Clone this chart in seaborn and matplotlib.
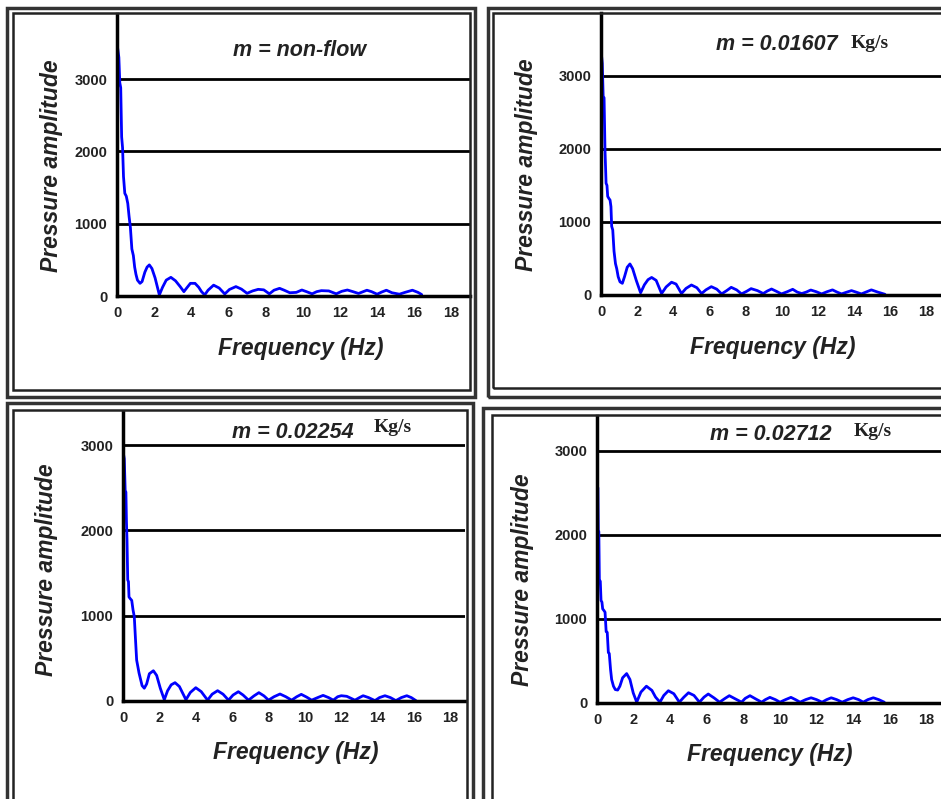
import matplotlib
matplotlib.use("Agg")
import matplotlib.pyplot as plt
from matplotlib.patches import Rectangle
from matplotlib.ticker import MultipleLocator
import seaborn as sns

# (frequency in Hz, pressure amplitude)
freq_nonflow = [0.0, 0.05, 0.1, 0.15, 0.2, 0.25, 0.3, 0.35, 0.42, 0.5,
                0.58, 0.65, 0.72, 0.8, 0.88, 0.95, 1.02, 1.1, 1.24, 1.35,
                1.5, 1.62, 1.74, 1.88, 2.05, 2.28, 2.45, 2.65, 2.9, 3.15,
                3.4, 3.6, 3.78, 3.95, 4.2, 4.4, 4.55, 4.72, 4.9, 5.2,
                5.5, 5.8, 6.05, 6.4, 6.7, 7.0, 7.3, 7.6, 7.9, 8.2,
                8.45, 8.75, 9.0, 9.3, 9.65, 9.95, 10.2, 10.5, 10.75, 11.0,
                11.4, 11.8, 12.1, 12.4, 12.7, 13.0, 13.2, 13.45, 13.7, 14.0,
                14.25, 14.5, 14.8, 15.2, 15.5, 15.9, 16.2, 16.4]
amp_nonflow = [3490, 3400, 3300, 2950, 2880, 2200, 2050, 1650, 1420, 1380,
               1280, 1100, 950, 650, 560, 400, 300, 220, 175, 200,
               330, 400, 430, 380, 250, 15, 120, 220, 258, 210,
               130, 60, 120, 175, 175, 120, 60, 15, 80, 150,
               110, 28, 90, 130, 95, 37, 70, 92, 85, 30,
               80, 106, 80, 45, 50, 83, 60, 30, 60, 74,
               70, 30, 65, 83, 60, 35, 55, 80, 60, 25,
               55, 80, 45, 25, 50, 80, 50, 20]

freq_01607 = [0.0, 0.04, 0.07, 0.12, 0.17, 0.22, 0.28, 0.33, 0.37, 0.44,
              0.5, 0.55, 0.59, 0.65, 0.72, 0.8, 0.87, 0.95, 1.05, 1.18,
              1.3, 1.45, 1.6, 1.75, 1.95, 2.19, 2.4, 2.6, 2.8, 3.05,
              3.35, 3.6, 3.9, 4.15, 4.45, 4.7, 5.0, 5.3, 5.56, 5.8,
              6.1, 6.4, 6.67, 6.95, 7.2, 7.5, 7.77, 8.05, 8.3, 8.65,
              8.97, 9.2, 9.43, 9.7, 9.98, 10.3, 10.6, 10.85, 11.1, 11.35,
              11.6, 11.9, 12.2, 12.5, 12.8, 13.05, 13.3, 13.6, 13.85, 14.1,
              14.4, 14.7, 14.95, 15.3, 15.7]
amp_01607 = [3330, 3250, 3170, 2720, 2700, 1990, 1530, 1500, 1350, 1320,
             1300, 1210, 940, 890, 600, 430, 360, 250, 180, 160,
             250, 380, 425, 360, 200, 30, 140, 210, 240, 200,
             20, 110, 175, 150, 20, 90, 137, 100, 20, 70,
             114, 80, 15, 60, 105, 70, 15, 50, 87, 60,
             20, 55, 82, 50, 15, 45, 78, 40, 20, 40,
             68, 45, 15, 45, 70, 40, 15, 40, 60, 40,
             15, 45, 70, 40, 10]

freq_02254 = [0.0, 0.04, 0.07, 0.12, 0.16, 0.19, 0.22, 0.26, 0.3, 0.33,
              0.4, 0.48, 0.55, 0.62, 0.68, 0.75, 0.82, 0.88, 0.97, 1.05,
              1.17, 1.3, 1.45, 1.67, 1.85, 2.05, 2.27, 2.45, 2.65, 2.86,
              3.1, 3.46, 3.7, 4.0, 4.3, 4.65, 4.9, 5.2, 5.5, 5.8,
              6.05, 6.34, 6.6, 6.9, 7.2, 7.47, 7.75, 8.0, 8.3, 8.63,
              8.95, 9.27, 9.55, 9.8, 10.1, 10.37, 10.7, 11.0, 11.3, 11.56,
              11.8, 12.0, 12.3, 12.75, 13.0, 13.2, 13.5, 13.85, 14.1, 14.4,
              14.7, 15.0, 15.3, 15.6, 15.85, 16.1]
amp_02254 = [2920, 2880, 2840, 2470, 2450, 2100, 1890, 1420, 1400, 1220,
             1200, 1180, 1070, 990, 750, 480, 400, 330, 250, 180,
             150, 200, 320, 355, 300, 150, 15, 120, 190, 215,
             170, 15, 100, 156, 110, 10, 80, 121, 80, 10,
             70, 109, 70, 10, 60, 98, 60, 10, 50, 82,
             50, 10, 50, 78, 45, 10, 40, 66, 40, 10,
             50, 62, 55, 10, 40, 62, 40, 5, 40, 62,
             40, 5, 40, 62, 40, 5]

freq_02712 = [0.0, 0.02, 0.05, 0.07, 0.1, 0.13, 0.18, 0.22, 0.27, 0.31,
              0.38, 0.44, 0.5, 0.56, 0.62, 0.67, 0.74, 0.8, 0.9, 1.0,
              1.13, 1.25, 1.4, 1.62, 1.8, 1.98, 2.17, 2.4, 2.7, 3.0,
              3.2, 3.44, 3.65, 3.9, 4.2, 4.5, 4.75, 5.0, 5.3, 5.6,
              5.85, 6.08, 6.4, 6.7, 7.0, 7.23, 7.55, 7.9, 8.1, 8.36,
              8.7, 9.0, 9.2, 9.45, 9.75, 10.0, 10.3, 10.6, 10.85, 11.1,
              11.4, 11.7, 12.0, 12.3, 12.55, 12.8, 13.1, 13.4, 13.7, 14.0,
              14.3, 14.55, 14.8, 15.1, 15.4, 15.7]
amp_02712 = [2900, 2570, 2560, 2050, 2040, 1460, 1450, 1220, 1200, 1120,
             1100, 1080, 850, 840, 600, 590, 400, 280, 200, 160,
             154, 200, 300, 350, 280, 120, 10, 130, 200, 150,
             70, 10, 90, 146, 110, 10, 70, 122, 90, 10,
             70, 107, 60, 10, 55, 87, 50, 10, 55, 87,
             45, 10, 40, 67, 40, 10, 40, 67, 40, 10,
             40, 62, 40, 10, 40, 62, 40, 10, 40, 62,
             40, 10, 40, 62, 40, 10]

titles = ["m = non-flow", "m = 0.01607", "m = 0.02254", "m = 0.02712"]
unit = "Kg/s"
xlabel = "Frequency (Hz)"
ylabel = "Pressure amplitude"

W, H = 941, 799

sns.set_style("white")
plt.rcParams["font.family"] = ["Liberation Sans", "DejaVu Sans"]

fig = plt.figure(figsize=(W / 100, H / 100), dpi=100)


def fx(x):
    return x / W


def fy(y):
    return 1 - y / H


def frame(x0, y0, x1, y1, lw, color):
    fig.patches.append(Rectangle((fx(x0), fy(y1)), fx(x1 - x0), (y1 - y0) / H,
                                 transform=fig.transFigure, fill=False,
                                 lw=lw, edgecolor=color, zorder=0))


# panel layout in pixels: axes box, y-limit top, x-limit right, frames, text spots
panels = [
    dict(freq=freq_nonflow, amp=amp_nonflow, box=(117, 14, 470, 296), ytop=3900, xr=19.0,
         outer=(7, 8, 475, 397), inner=(13, 13, 470, 390),
         title=(300, 51), unit=None, ylab=(52, 166), xlab=(301, 348)),
    dict(freq=freq_01607, amp=amp_01607, box=(601, 13, 941, 295), ytop=3860, xr=18.8,
         outer=(488, 8, 948, 397), inner=(493, 13, 944, 388),
         title=(777, 45), unit=(870, 43), ylab=(527, 165), xlab=(773, 347)),
    dict(freq=freq_02254, amp=amp_02254, box=(123, 412, 465, 701), ytop=3390, xr=18.8,
         outer=(7, 403, 473, 805), inner=(13, 410, 467, 805),
         title=(293, 432), unit=(393, 428), ylab=(47, 570), xlab=(296, 752)),
    dict(freq=freq_02712, amp=amp_02712, box=(597, 416, 941, 703), ytop=3415, xr=18.8,
         outer=(483, 408, 948, 805), inner=(492, 415, 944, 805),
         title=(771, 435), unit=(873, 431), ylab=(522, 580), xlab=(770, 755)),
]

for i, p in enumerate(panels):
    frame(*p["outer"], lw=2.5, color="#333333")
    frame(*p["inner"], lw=1.8, color="#222222")

    l, t, r, b = p["box"]
    ax = fig.add_axes([fx(l), fy(b), fx(r - l), (b - t) / H])
    sns.lineplot(x=p["freq"], y=p["amp"], ax=ax, color="#0000ff", lw=2,
                 estimator=None, sort=False)
    ax.set_xlim(0, p["xr"])
    ax.set_ylim(0, p["ytop"])
    ax.set_facecolor("none")

    ax.xaxis.set_major_locator(MultipleLocator(2))
    ax.xaxis.set_minor_locator(MultipleLocator(1))
    ax.set_yticks([0, 1000, 2000, 3000])
    ax.yaxis.set_minor_locator(MultipleLocator(500))
    ax.tick_params(which="major", direction="out", length=5, width=2,
                   labelsize=10.5, pad=2)
    ax.tick_params(which="minor", direction="out", length=4, width=2)
    for lab in ax.get_xticklabels() + ax.get_yticklabels():
        lab.set_fontweight("bold")
        lab.set_color("#222222")

    ax.grid(axis="y", which="major", color="black", lw=2)
    ax.grid(axis="x", visible=False)
    for side in ["top", "right"]:
        ax.spines[side].set_visible(False)
    for side in ["left", "bottom"]:
        ax.spines[side].set_linewidth(2.5)
        ax.spines[side].set_color("black")

    fig.text(fx(p["xlab"][0]), fy(p["xlab"][1]), xlabel, ha="center", va="center",
             fontsize=16.5, fontweight="bold", fontstyle="italic", color="#222222")
    fig.text(fx(p["ylab"][0]), fy(p["ylab"][1]), ylabel, ha="center", va="center",
             rotation=90, fontsize=16.5, fontweight="bold", fontstyle="italic",
             color="#222222")
    fig.text(fx(p["title"][0]), fy(p["title"][1]), titles[i], ha="center", va="center",
             fontsize=15.5, fontweight="bold", fontstyle="italic", color="#222222")
    if p["unit"] is not None:
        fig.text(fx(p["unit"][0]), fy(p["unit"][1]), unit, ha="center", va="center",
                 fontsize=14, fontweight="bold", family="Liberation Serif",
                 color="#222222")

fig.savefig("out.png", dpi=100, facecolor="white")
